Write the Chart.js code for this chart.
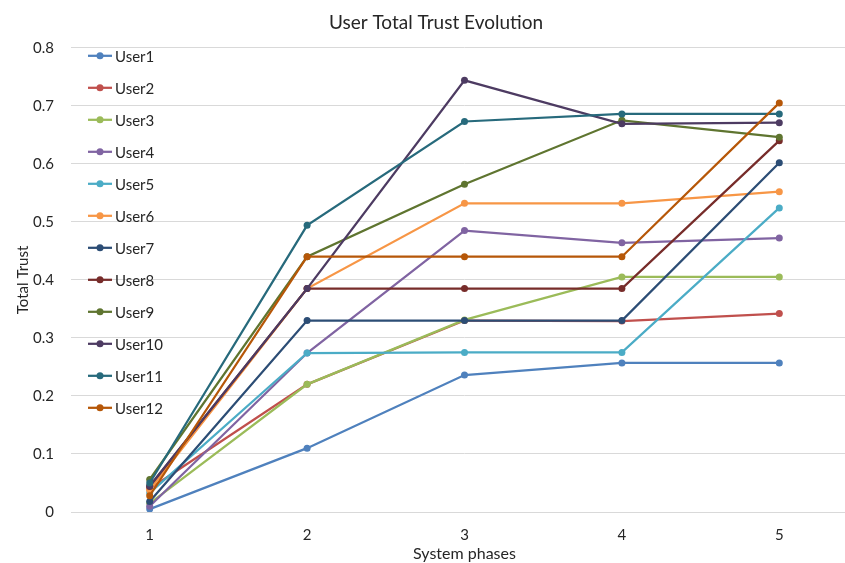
<!DOCTYPE html>
<html>
<head>
<meta charset="utf-8">
<script src="https://cdn.jsdelivr.net/npm/chart.js@4/dist/chart.umd.min.js"></script>
<style>
  html, body { margin: 0; padding: 0; background: #fff; overflow: hidden; }
  #wrap { width: 872px; height: 563px; }
</style>
</head>
<body>
<div id="wrap"><canvas id="trustChart" width="872" height="563"></canvas></div>
<script>
// Fases del sistema (eje X)
const phases = ['1', '2', '3', '4', '5'];

// Confianza total de cada usuario por fase
const user1 = [0.005, 0.11, 0.236, 0.257, 0.257];
const user2 = [0.04, 0.22, 0.33, 0.329, 0.342];
const user3 = [0.015, 0.22, 0.331, 0.405, 0.405];
const user4 = [0.01, 0.274, 0.485, 0.464, 0.472];
const user5 = [0.033, 0.274, 0.275, 0.275, 0.524];
const user6 = [0.038, 0.385, 0.532, 0.532, 0.552];
const user7 = [0.018, 0.33, 0.33, 0.33, 0.602];
const user8 = [0.044, 0.385, 0.385, 0.385, 0.64];
const user9 = [0.056, 0.44, 0.565, 0.675, 0.646];
const user10 = [0.045, 0.385, 0.744, 0.669, 0.671];
const user11 = [0.05, 0.494, 0.673, 0.686, 0.686];
const user12 = [0.028, 0.44, 0.44, 0.44, 0.705];

const userNames = ['User1', 'User2', 'User3', 'User4', 'User5', 'User6',
                   'User7', 'User8', 'User9', 'User10', 'User11', 'User12'];
const userValues = [user1, user2, user3, user4, user5, user6,
                    user7, user8, user9, user10, user11, user12];
const userColors = ['#4F81BD', '#C0504D', '#9BBB59', '#8064A2', '#4BACC6', '#F79646',
                    '#2C4D75', '#772C2A', '#5F7530', '#4D3B62', '#276A7C', '#B65708'];

const FONT = 'Lato, "Liberation Sans", sans-serif';
const TEXT = '#262626';

// Leyenda dibujada dentro del área del gráfico, a la izquierda
const insideLegend = {
    id: 'insideLegend',
    afterDraw(chart) {
        const ctx = chart.ctx;
        const area = chart.chartArea;
        ctx.save();
        ctx.font = '15px ' + FONT;
        ctx.textBaseline = 'middle';
        ctx.textAlign = 'left';
        userNames.forEach((name, i) => {
            const y = area.top + 8 + i * 32;
            const x = area.left + 17;
            ctx.strokeStyle = userColors[i];
            ctx.lineWidth = 2.25;
            ctx.beginPath();
            ctx.moveTo(x, y);
            ctx.lineTo(x + 24, y);
            ctx.stroke();
            ctx.fillStyle = userColors[i];
            ctx.beginPath();
            ctx.arc(x + 12, y, 3.5, 0, Math.PI * 2);
            ctx.fill();
            ctx.fillStyle = TEXT;
            ctx.fillText(name, x + 27, y + 1);
        });
        ctx.restore();
    }
};

const ctx = document.getElementById('trustChart').getContext('2d');
new Chart(ctx, {
    type: 'line',
    data: {
        labels: phases,
        datasets: userNames.map((name, i) => ({
            label: name,
            data: userValues[i],
            borderColor: userColors[i],
            backgroundColor: userColors[i],
            borderWidth: 2.25,
            pointRadius: 3.5,
            pointBorderWidth: 0,
            tension: 0,
            order: userNames.length - i   // el último usuario queda encima, como en Excel
        }))
    },
    options: {
        responsive: false,
        animation: false,
        layout: { padding: { left: 14, right: 14, top: 0, bottom: 0 } },
        plugins: {
            legend: { display: false },
            tooltip: { enabled: false },
            title: {
                display: true,
                text: 'User Total Trust Evolution',
                color: TEXT,
                font: { family: FONT, size: 19, weight: 'normal' },
                padding: { top: 11, bottom: 14 }
            }
        },
        scales: {
            x: {
                offset: true,
                grid: { display: false, drawTicks: false },
                border: { display: true, color: '#d9d9d9', width: 1 },
                ticks: { color: TEXT, font: { family: FONT, size: 15 }, padding: 14 },
                title: {
                    display: true,
                    text: 'System phases',
                    color: TEXT,
                    font: { family: FONT, size: 16 },
                    padding: { top: 1, bottom: 0 }
                },
                afterFit: (scale) => { scale.height = 51; }
            },
            y: {
                min: 0,
                max: 0.8,
                ticks: { stepSize: 0.1, color: TEXT, font: { family: FONT, size: 15 }, padding: 17 },
                grid: { color: '#d9d9d9', lineWidth: 1, drawTicks: false },
                border: { display: false },
                title: {
                    display: true,
                    text: 'Total Trust',
                    color: TEXT,
                    font: { family: FONT, size: 15 },
                    padding: { top: 0, bottom: 0 }
                },
                afterFit: (scale) => { scale.width = 57; }
            }
        }
    },
    plugins: [insideLegend]
});
</script>
</body>
</html>
